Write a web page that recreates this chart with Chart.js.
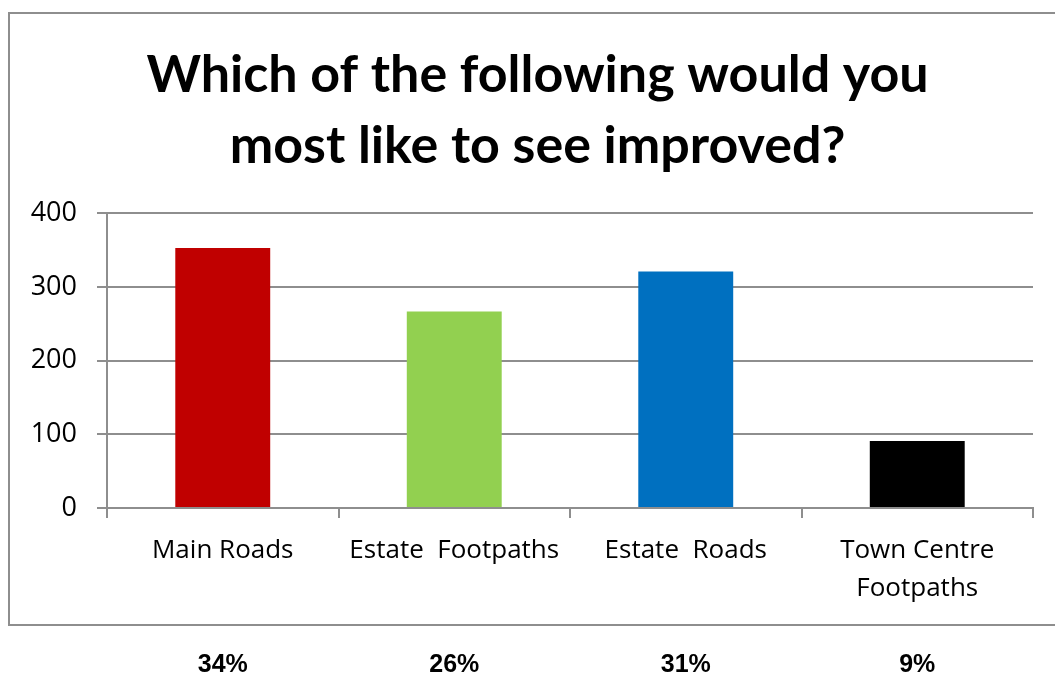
<!DOCTYPE html>
<html>
<head>
<meta charset="utf-8">
<script src="https://cdn.jsdelivr.net/npm/chart.js@4.4.1/dist/chart.umd.min.js"></script>
<style>
  html, body { margin: 0; padding: 0; background: #fff; }
  #wrap { position: relative; width: 1055px; height: 675px; }
</style>
</head>
<body>
<div id="wrap"><canvas id="chart" width="1055" height="675"></canvas></div>
<script>
// Survey: which of the following would you most like to see improved?
const categories = ['Main Roads', 'Estate  Footpaths', 'Estate  Roads', ['Town Centre', 'Footpaths']];
const responses = [353, 267, 321, 91];
const shares = ['34%', '26%', '31%', '9%'];
const barColours = ['#C00000', '#92D050', '#0070C0', '#000000'];
const yTicks = [0, 100, 200, 300, 400];

const GRID = '#8e8e8e';

// outer frame around the chart, percentages sit below it
const framePlugin = {
  id: 'frame',
  afterLayout(chart) {
    // title in the original sits a little right of the canvas centre
    const t = chart.titleBlock;
    if (t) { t.left += 16; t.right += 16; }
  },
  beforeDraw(chart) {
    const ctx = chart.ctx;
    ctx.save();
    ctx.strokeStyle = GRID;
    ctx.lineWidth = 2;
    ctx.strokeRect(9, 13, 1060, 612);
    ctx.restore();
  },
};

const sharesPlugin = {
  id: 'shares',
  afterDraw(chart) {
    const ctx = chart.ctx;
    const x = chart.scales.x;
    ctx.save();
    ctx.fillStyle = '#000';
    ctx.font = 'bold 25px "Liberation Sans Narrow", "Liberation Sans", Arial, sans-serif';
    ctx.textAlign = 'center';
    ctx.textBaseline = 'middle';
    shares.forEach((s, i) => ctx.fillText(s, x.getPixelForValue(i), 665));
    ctx.restore();
  },
};

new Chart(document.getElementById('chart'), {
  type: 'bar',
  data: {
    labels: categories,
    datasets: [{
      data: responses,
      backgroundColor: barColours,
      borderWidth: 0,
      barPercentage: 0.41,
      categoryPercentage: 1,
    }],
  },
  plugins: [framePlugin, sharesPlugin],
  options: {
    responsive: false,
    animation: false,
    layout: { padding: { left: 10, right: 22, top: 0, bottom: 10 } },
    plugins: {
      legend: { display: false },
      tooltip: { enabled: false },
      title: {
        display: true,
        text: ['Which of the following would you', 'most like to see improved?'],
        color: '#000',
        font: { family: 'Lato, "Open Sans", sans-serif', size: 52, weight: 'bold', lineHeight: 1.36 },
        padding: { top: 40, bottom: 32 },
      },
    },
    scales: {
      y: {
        min: 0,
        max: 400,
        afterBuildTicks: (s) => { s.ticks = yTicks.map(v => ({ value: v })); },
        afterFit: (s) => { s.width = 97; },
        ticks: {
          color: '#000',
          padding: 20,
          font: { family: '"Open Sans", sans-serif', size: 27 },
        },
        grid: { color: GRID, lineWidth: 2, tickLength: 10, drawTicks: true },
        border: { color: GRID, width: 2 },
      },
      x: {
        afterFit: (s) => { s.height = 157; },
        ticks: {
          color: '#000',
          padding: 14,
          maxRotation: 0,
          autoSkip: false,
          font: { family: '"Open Sans", sans-serif', size: 26, lineHeight: 1.46 },
        },
        grid: { drawOnChartArea: false, color: GRID, lineWidth: 2, tickLength: 10, offset: true },
        border: { color: GRID, width: 2 },
      },
    },
  },
});
</script>
</body>
</html>
